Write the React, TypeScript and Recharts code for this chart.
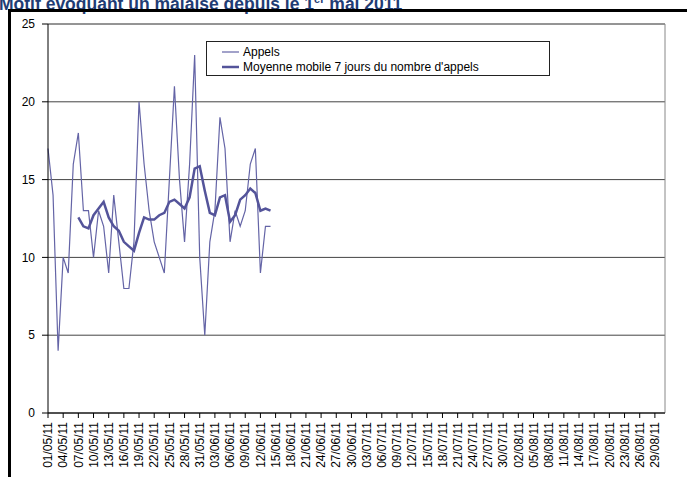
import { CartesianGrid, Legend, Line, LineChart, ReferenceLine, XAxis, YAxis } from "recharts";

const FONT = "'Liberation Sans', Arial, sans-serif";

// 1er mai au 31 août 2011, un point par jour
const FIRST_DAY = Date.UTC(2011, 4, 1);
const DAY_COUNT = 123;

// nombre d'appels par jour, à partir du 01/05/11
const appels = [
  17, 14, 4, 10, 9, 16, 18, 13, 13, 10, 13, 12, 9, 14, 11, 8, 8, 11, 20, 16, 13, 11, 10, 9, 15,
  21, 15, 11, 16, 23, 10, 5, 11, 13, 19, 17, 11, 13, 12, 13, 16, 17, 9, 12, 12
];

// moyenne mobile 7 jours, à partir du 07/05/11
const moyenne = [
  12.57, 12.0, 11.86, 12.71, 13.14, 13.57, 12.57, 12.0, 11.71, 11.0, 10.71, 10.43, 11.57, 12.57,
  12.43, 12.43, 12.71, 12.86, 13.57, 13.71, 13.43, 13.14, 13.86, 15.71, 15.86, 14.29, 12.86,
  12.71, 13.86, 14.0, 12.29, 12.71, 13.71, 14.0, 14.43, 14.14, 13.0, 13.14, 13.0
];
const MOYENNE_START = 6;

const yTicks = [0, 5, 10, 15, 20, 25];

const pad = (n: number) => String(n).padStart(2, "0");
const dates = Array.from({ length: DAY_COUNT }, (_, i) => {
  const d = new Date(FIRST_DAY + i * 86400000);
  return `${pad(d.getUTCDate())}/${pad(d.getUTCMonth() + 1)}/11`;
});

const data = dates.map((date, i) => ({
  date,
  appels: appels[i] ?? null,
  moyenne: i >= MOYENNE_START ? moyenne[i - MOYENNE_START] ?? null : null
}));

const LINE_WIDTHS: Record<string, number> = { appels: 1.2, moyenne: 2.5 };

function DateTick({ x, y, payload }: any) {
  return (
    <g transform={`translate(${x},${y})`}>
      <text
        transform="rotate(-90)"
        textAnchor="end"
        dy="0.35em"
        fontSize={12}
        fontFamily={FONT}
        fill="#000"
      >
        {payload.value}
      </text>
    </g>
  );
}

function LegendBox({ payload }: any) {
  return (
    <div
      style={{
        boxSizing: "border-box",
        width: 344,
        height: 35,
        border: "1px solid #222",
        background: "#fff",
        padding: "2px 0 0 15px",
        fontFamily: FONT,
        fontSize: 12,
        color: "#000"
      }}
    >
      {(payload ?? []).map((item: any) => (
        <div key={item.dataKey} style={{ display: "flex", alignItems: "center", height: 15.5 }}>
          <svg width={17} height={4} style={{ display: "block" }}>
            <line x1={0} y1={2} x2={17} y2={2} stroke={item.color} strokeWidth={LINE_WIDTHS[item.dataKey]} />
          </svg>
          <span style={{ marginLeft: 4 }}>{item.value}</span>
        </div>
      ))}
    </div>
  );
}

export default function App() {
  return (
    <div
      style={{
        position: "absolute",
        left: 0,
        top: 0,
        width: 687,
        height: 477,
        overflow: "hidden",
        background: "#fff"
      }}
    >
      <div
        style={{
          position: "absolute",
          left: -1,
          top: -9,
          lineHeight: "16px",
          fontFamily: FONT,
          fontSize: 17.5,
          fontWeight: "bold",
          color: "#1F3C74",
          whiteSpace: "nowrap"
        }}
      >
        Motif évoquant un malaise depuis le 1<sup style={{ fontSize: 11 }}>er</sup> mai 2011
      </div>
      <div
        style={{
          position: "absolute",
          left: 8,
          top: 9,
          width: 700,
          height: 500,
          borderTop: "3px solid #000",
          borderLeft: "3px solid #000"
        }}
      />
      <div style={{ position: "absolute", left: 0, top: 0 }}>
        <LineChart width={687} height={477} data={data} margin={{ top: 24, right: 22, bottom: 4, left: 0 }}>
          <CartesianGrid vertical={false} stroke="#444" />
          <XAxis
            dataKey="date"
            interval={2}
            height={60}
            tickSize={5}
            tickMargin={4}
            tick={<DateTick />}
            axisLine={{ stroke: "#000" }}
            tickLine={{ stroke: "#000" }}
          />
          <YAxis
            type="number"
            domain={[0, 25]}
            ticks={yTicks}
            width={48}
            tickSize={6}
            tickMargin={7}
            tick={{ fontSize: 12, fontFamily: FONT, fill: "#000" }}
            axisLine={{ stroke: "#000" }}
            tickLine={{ stroke: "#000" }}
          />
          <ReferenceLine y={25} stroke="#888" />
          <ReferenceLine x={dates[dates.length - 1]} stroke="#888" />
          <Legend
            layout="vertical"
            align="center"
            verticalAlign="middle"
            content={<LegendBox />}
            wrapperStyle={{ left: 206, top: 41, width: 344, height: 35 }}
          />
          <Line
            dataKey="appels"
            name="Appels"
            stroke="#6464A6"
            strokeWidth={1.2}
            dot={false}
            activeDot={false}
            isAnimationActive={false}
          />
          <Line
            dataKey="moyenne"
            name="Moyenne mobile 7 jours du nombre d'appels"
            stroke="#54549A"
            strokeWidth={2.5}
            dot={false}
            activeDot={false}
            isAnimationActive={false}
          />
        </LineChart>
      </div>
    </div>
  );
}
